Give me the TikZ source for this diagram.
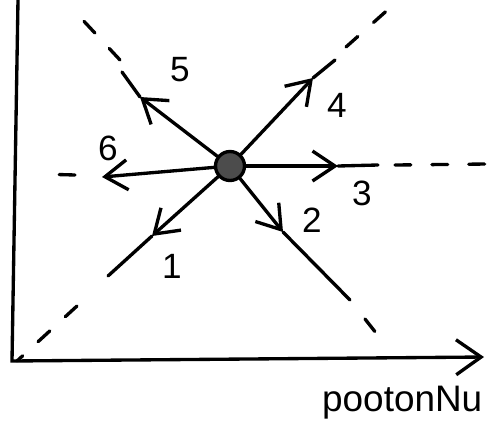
\documentclass[tikz,border=0pt]{standalone}
\usepackage{fontspec}
\setmainfont{Liberation Sans}
\usetikzlibrary{arrows.meta}

\begin{document}
\begin{tikzpicture}[
  x=0.02cm, y=-0.02cm,
  pen/.style={line width=1.9pt, line cap=round},
  flow/.style={pen, -{Straight Barb[length=4.5mm,width=6mm]}},
  guide/.style={pen, dash pattern=on 9pt off 12pt},
  axis/.style={pen, -{Straight Barb[length=5mm,width=7mm]}},
  hub/.style={circle, draw, line width=1.9pt, fill=black!70, minimum size=5.8mm, inner sep=0pt},
  num/.style={font=\fontsize{20}{24}\selectfont},
  axislabel/.style={font=\fontsize{21}{25}\selectfont}
]
  \useasboundingbox (0,0) rectangle (487,430);

  % axes
  \coordinate (ytop) at (18,0);
  \coordinate (origin) at (12,361);
  \coordinate (xend) at (484,357);
  \draw[axis] (ytop) -- (origin) -- (xend);
  \node[axislabel, anchor=base west] (xlabel) at (316,411) {pootonNu};

  % centre
  \node[hub] (hub) at (230,166) {};

  % ray 1
  \coordinate (t1) at (152,236);
  \coordinate (e1) at (108,276);
  \coordinate (g1) at (77,306);
  \coordinate (d1) at (17,361);
  \draw[flow] (hub) -- (t1);
  \draw[pen] (t1) -- (e1);
  \draw[guide] (g1) -- (d1);

  % ray 2
  \coordinate (t2) at (283,232);
  \coordinate (e2) at (350,300);
  \coordinate (g2) at (365,319);
  \coordinate (d2) at (380,338);
  \draw[flow] (hub) -- (t2);
  \draw[pen] (t2) -- (e2);
  \draw[guide] (g2) -- (d2);

  % ray 3
  \coordinate (t3) at (338,166);
  \coordinate (e3) at (378,165);
  \coordinate (g3) at (395,165);
  \coordinate (d3) at (487,164);
  \draw[flow] (hub) -- (t3);
  \draw[pen] (t3) -- (e3);
  \draw[guide] (g3) -- (d3);

  % ray 4
  \coordinate (t4) at (313,78);
  \coordinate (e4) at (335,60);
  \coordinate (g4) at (346,47);
  \coordinate (d4) at (392,6);
  \draw[flow] (hub) -- (t4);
  \draw[pen] (t4) -- (e4);
  \draw[guide] (g4) -- (d4);

  % ray 5
  \coordinate (t5) at (140,97);
  \coordinate (e5) at (122,72);
  \coordinate (g5) at (120,60);
  \coordinate (d5) at (80,17);
  \draw[flow] (hub) -- (t5);
  \draw[pen] (t5) -- (e5);
  \draw[guide] (g5) -- (d5);

  % ray 6
  \coordinate (t6) at (102,177);
  \coordinate (g6) at (75,175);
  \coordinate (d6) at (40,174);
  \draw[flow] (hub) -- (t6);
  \draw[guide] (g6) -- (d6);

  % labels
  \node[num] (n1) at (172,266) {1};
  \node[num] (n2) at (312,220) {2};
  \node[num] (n3) at (362,193) {3};
  \node[num] (n4) at (337,105) {4};
  \node[num] (n5) at (180,70) {5};
  \node[num] (n6) at (108,148) {6};
\end{tikzpicture}
\end{document}
